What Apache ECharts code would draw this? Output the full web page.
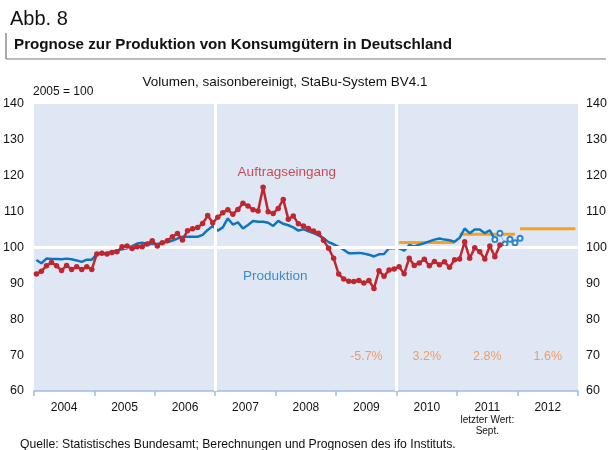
<!DOCTYPE html>
<html><head><meta charset="utf-8">
<script src="https://cdn.jsdelivr.net/npm/echarts@6/dist/echarts.min.js"></script>
<style>html,body{margin:0;padding:0;background:#fff}#c{width:611px;height:450px}</style>
</head><body><div id="c"></div>
<script>
// Years (x categories for labels)
const years = ['2004','2005','2006','2007','2008','2009','2010','2011','2012'];
// Auftragseingang, monthly Jan 2004 - Sep 2011
const orders = [
 92.6, 93.4, 94.9, 95.8, 94.9, 93.6, 95.0, 93.9, 94.6, 93.9, 94.6, 93.9,
 98.2, 98.4, 98.2, 98.6, 98.8, 100.2, 100.4, 99.7, 100.2, 100.2, 101.0, 101.9,
 100.4, 101.3, 101.9, 103.0, 103.9, 102.1, 104.7, 105.2, 105.6, 106.7, 108.9, 106.9,
 108.4, 109.7, 110.5, 109.3, 110.6, 112.3, 111.6, 110.5, 110.2, 116.8, 110.0, 109.5,
 110.9, 113.4, 107.9, 108.8, 106.6, 106.0, 105.3, 104.6, 104.0, 102.0, 99.8, 97.0,
 92.6, 91.2, 90.6, 90.5, 90.8, 90.1, 90.8, 88.6, 93.5, 92.0, 93.7, 94.0,
 94.6, 92.7, 97.0, 95.0, 95.7, 96.7, 94.9, 96.1, 95.2, 96.0, 94.5, 96.6,
 96.8, 101.6, 97.0, 99.9, 98.8, 96.8, 100.4, 97.4, 100.7
];
// Produktion, monthly Jan 2004 - Aug 2011
const production = [
 96.5, 95.6, 96.9, 96.8, 96.8, 96.7, 96.9, 96.7, 96.4, 96.0, 96.6, 96.6,
 98.2, 98.4, 98.5, 98.8, 99.2, 99.5, 99.8, 100.4, 101.1, 101.3, 101.0, 101.0,
 101.0, 101.3, 101.6, 101.9, 102.5, 103.0, 103.0, 103.0, 103.0, 103.5, 104.9, 106.0,
 104.7, 105.6, 108.1, 106.4, 107.0, 105.3, 106.3, 107.4, 107.2, 107.2, 106.9, 106.0,
 107.4, 106.6, 106.2, 105.6, 104.7, 105.1, 104.5, 104.0, 103.4, 102.6, 101.5, 100.9,
 100.2, 99.4, 98.4, 98.4, 98.5, 98.3, 98.0, 97.5, 98.1, 98.2, 99.8, 99.8,
 99.8, 99.1, 100.7, 100.3, 100.8, 101.2, 101.7, 102.2, 102.5, 102.2, 102.0, 101.6,
 102.7, 105.3, 104.0, 105.0, 105.0, 104.0, 104.8, 102.2
];
// Production forecast (open circles), Sep 2011 onwards
const forecast = [104.0, 101.0, 102.3, 101.3, 102.6];
// Annual forecast levels (orange bars) for 2010, 2011, 2012
const annualYears = [2010, 2011, 2012];
const annualLevels = [101.4, 103.7, 105.2];
// Annual growth rates shown under the chart, for 2009..2012
const rateYears = [2009, 2010, 2011, 2012];
const rates = ['-5.7%', '3.2%', '2.8%', '1.6%'];

const START = 2004;
const mx = i => i + 0.5;
const orderData = orders.map((v, i) => [mx(i), v]);
const prodData = production.map((v, i) => [mx(i), v]);
const fcStart = production.length - 1;
const fcData = [[mx(fcStart), production[fcStart]]].concat(forecast.map((v, i) => [mx(fcStart + 1 + i), v]));
const orange = '#F6A21E';
const BLUE = '#1174BE';
const RED = '#BF2730';
const annualSeries = annualYears.map((y, k) => ({
  type: 'line', xAxisIndex: 0, yAxisIndex: 0, symbol: 'none', z: 3, silent: true,
  lineStyle: { color: orange, width: 3 },
  data: [[(y - START) * 12 + 0.5, annualLevels[k]], [(y - START + 1) * 12 - 0.5, annualLevels[k]]]
}));

const FONT = 'Liberation Sans, Arial, sans-serif';
const chart = echarts.init(document.getElementById('c'), null, { renderer: 'canvas' });
const tt = (text, left, top, size, extra) => Object.assign({ text, left, top, padding: 0,
  textStyle: { fontFamily: FONT, fontSize: size, fontWeight: 'normal', color: '#111' } }, extra || {});
chart.setOption({
  animation: false,
  backgroundColor: '#fff',
  textStyle: { fontFamily: FONT },
  grid: { left: 32, right: 33, top: 104, bottom: 59, show: true, backgroundColor: '#E0E7F4', borderWidth: 0 },
  title: [
    tt('Abb. 8', 10, 9, 20),
    { text: 'Prognose zur Produktion von Konsumgütern in Deutschland', left: 14, top: 37, padding: 0,
      textStyle: { fontFamily: FONT, fontSize: 15.2, fontWeight: 'bold', color: '#111' } },
    tt('Volumen, saisonbereinigt, StaBu-System BV4.1', 285, 75, 13.5, { textAlign: 'center' }),
    tt('2005 = 100', 33, 86, 12),
    tt('Quelle: Statistisches Bundesamt; Berechnungen und Prognosen des ifo Instituts.', 20, 439, 12.2, {})
  ],
  graphic: [
    { type: 'line', shape: { x1: 6, y1: 33, x2: 6, y2: 59 }, style: { stroke: '#555', lineWidth: 1 } },
    { type: 'line', shape: { x1: 6, y1: 59, x2: 606, y2: 59 }, style: { stroke: '#777', lineWidth: 1 } }
  ],
  xAxis: [
    { type: 'value', min: 0, max: 108, interval: 12, position: 'bottom',
      axisLine: { show: true, lineStyle: { color: '#9CBDE2', width: 1.5 } },
      axisTick: { show: true, length: 5, lineStyle: { color: '#9CBDE2', width: 1.5 } },
      axisLabel: { show: false }, splitLine: { show: false } },
    { type: 'category', data: years, boundaryGap: true, position: 'bottom', gridIndex: 0,
      axisLine: { show: false }, axisTick: { show: false }, splitLine: { show: false },
      axisLabel: { interval: 0, color: '#111', fontSize: 12, fontFamily: FONT, margin: 10, lineHeight: 13,
        formatter: v => v === '2011' ? '{y|2011}\n{s|letzter Wert:}\n{s|Sept.}' : '{y|' + v + '}',
        rich: { y: { fontSize: 12, lineHeight: 14, color: '#111', fontFamily: FONT },
                s: { fontSize: 10, lineHeight: 11, color: '#111', fontFamily: FONT } } } }
  ],
  yAxis: [
    { type: 'value', min: 60, max: 140, interval: 10, position: 'left',
      axisLine: { show: false }, axisTick: { show: false }, splitLine: { show: false },
      axisLabel: { color: '#111', fontSize: 12.5, fontFamily: FONT, margin: 10 } },
    { type: 'value', min: 60, max: 140, interval: 10, position: 'right',
      axisLine: { show: false }, axisTick: { show: false }, splitLine: { show: false },
      axisLabel: { color: '#111', fontSize: 12.5, fontFamily: FONT, margin: 8 } }
  ],
  series: [
    { type: 'line', data: [], z: 1, silent: true,
      markLine: { silent: true, symbol: 'none', label: { show: false },
        lineStyle: { color: '#fff', width: 3, type: 'solid' },
        data: [{ yAxis: 100 }, { xAxis: 36 }, { xAxis: 72 }] } },
    ...annualSeries,
    { name: 'Produktion', type: 'line', data: prodData, symbol: 'none', z: 4,
      lineStyle: { color: BLUE, width: 2.5 } },
    { name: 'Prognose', type: 'line', data: fcData, symbol: 'emptyCircle', symbolSize: 5, z: 4,
      showSymbol: true,
      itemStyle: { color: '#2C86CC', borderColor: '#2C86CC', borderWidth: 1 },
      lineStyle: { color: '#8DBBE2', width: 1 } },
    { name: 'Auftragseingang', type: 'line', data: orderData, symbol: 'circle', symbolSize: 5.5, z: 5,
      itemStyle: { color: RED }, lineStyle: { color: RED, width: 2.5 } },
    { type: 'scatter', symbolSize: 0, z: 6, silent: true,
      data: rateYears.map((y, k) => ({ value: [(y - START) * 12 + 6, 69.7], name: rates[k] })),
      label: { show: true, position: 'inside', formatter: p => p.name, color: '#F08A45', fontSize: 12.5, fontFamily: FONT } },
    { type: 'scatter', symbolSize: 0, z: 6, silent: true,
      data: [{ value: [50.2, 121.0], name: 'Auftragseingang', label: { color: '#C0272D' } },
             { value: [47.9, 92.1], name: 'Produktion', label: { color: BLUE } }],
      label: { show: true, position: 'inside', formatter: p => p.name, fontSize: 13.5, fontFamily: FONT } }
  ]
});
</script></body></html>
